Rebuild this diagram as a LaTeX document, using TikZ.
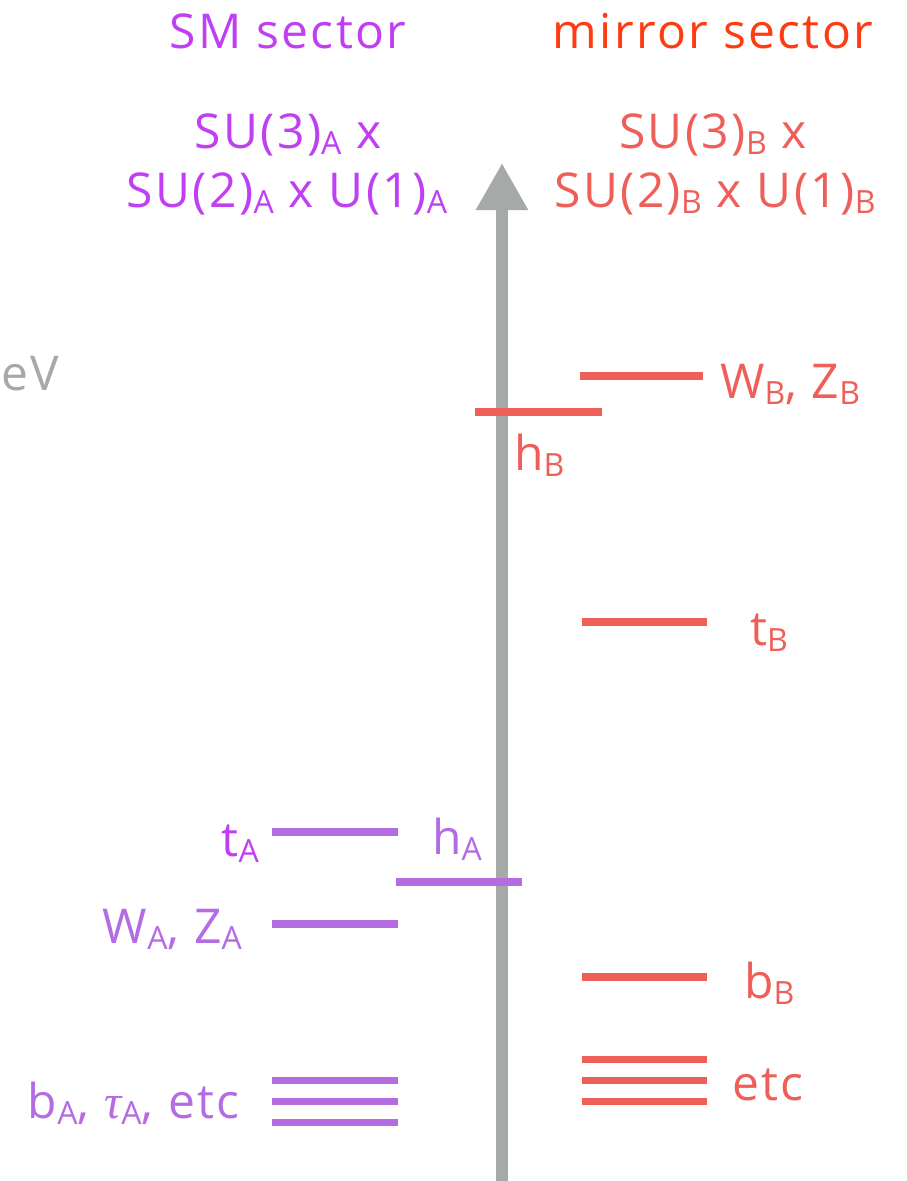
\documentclass[tikz,border=0pt]{standalone}
\usepackage{fontspec}
\setmainfont{Open Sans}[LetterSpace=5]
\newfontfamily\greekf{Liberation Serif}
\usetikzlibrary{arrows.meta}
\definecolor{smtitle}{HTML}{C13FF2}
\definecolor{mirtitle}{HTML}{FF3B12}
\definecolor{bred}{HTML}{EE5F5A}
\definecolor{apurp}{HTML}{B46CE3}
\definecolor{axisgray}{HTML}{A5A9A8}
\newcommand{\sbs}[1]{\raisebox{-6pt}{\fontsize{32}{32}\selectfont #1}}
\tikzset{
  big/.style={font=\fontsize{48}{56}\selectfont, inner sep=0pt},
  lvlA/.style={draw=apurp, line width=8pt},
  lvlB/.style={draw=bred, line width=8pt},
  axisarrow/.style={draw=axisgray, line width=12pt, -{Triangle[length=47pt,width=49pt]}},
}
\begin{document}
\begin{tikzpicture}[x=1pt,y=-1pt]
\useasboundingbox (0,0) rectangle (907,1181);
% titles
\node[big, text=smtitle, anchor=base] (smt) at (288,48) {SM sector};
\node[big, text=mirtitle, anchor=base] (mrt) at (713,48) {mirror sector};
\node[big, text=smtitle, anchor=base] (gA1) at (288,148) {SU(3)\sbs{A} x};
\node[big, text=smtitle, anchor=base] (gA2) at (287,207) {SU(2)\sbs{A} x U(1)\sbs{A}};
\node[big, text=bred, anchor=base] (gB1) at (713,148) {SU(3)\sbs{B} x};
\node[big, text=bred, anchor=base] (gB2) at (715,207) {SU(2)\sbs{B} x U(1)\sbs{B}};
\node[big, text=axisgray, anchor=base west] (ev) at (1,390) {eV};
% axis
\coordinate (axb) at (502,1181);
\coordinate (axt) at (502,163);
\draw[axisarrow] (axb) -- (axt);
% mirror levels
\coordinate (wbL) at (580,376); \coordinate (wbR) at (703,376);
\draw[lvlB] (wbL) -- (wbR);
\node[big, text=bred, anchor=base west] (wbl) at (720,398) {W\sbs{B}, Z\sbs{B}};
\coordinate (hbL) at (475,412); \coordinate (hbR) at (602,412);
\draw[lvlB] (hbL) -- (hbR);
\node[big, text=bred, anchor=base west] (hbl) at (514,470) {h\sbs{B}};
\coordinate (tbL) at (582,622); \coordinate (tbR) at (707,622);
\draw[lvlB] (tbL) -- (tbR);
\node[big, text=bred, anchor=base west] (tbl) at (750,645) {t\sbs{B}};
\coordinate (bbL) at (582,977); \coordinate (bbR) at (707,977);
\draw[lvlB] (bbL) -- (bbR);
\node[big, text=bred, anchor=base west] (bbl) at (744,998) {b\sbs{B}};
\coordinate (e1L) at (582,1059); \coordinate (e1R) at (707,1059);
\coordinate (e2L) at (582,1080); \coordinate (e2R) at (707,1080);
\coordinate (e3L) at (582,1101); \coordinate (e3R) at (707,1101);
\draw[lvlB, line width=7pt] (e1L) -- (e1R);
\draw[lvlB, line width=7pt] (e2L) -- (e2R);
\draw[lvlB, line width=7pt] (e3L) -- (e3R);
\node[big, text=bred, anchor=base west] (etcl) at (732,1100) {etc};
% SM levels
\coordinate (taL) at (272,832); \coordinate (taR) at (398,832);
\draw[lvlA] (taL) -- (taR);
\node[big, text=smtitle, anchor=base east] (tal) at (259,856) {t\sbs{A}};
\coordinate (haL) at (396,882); \coordinate (haR) at (522,882);
\draw[lvlA] (haL) -- (haR);
\node[big, text=apurp, anchor=base west] (hal) at (432,854) {h\sbs{A}};
\coordinate (waL) at (272,924); \coordinate (waR) at (398,924);
\draw[lvlA] (waL) -- (waR);
\node[big, text=apurp, anchor=base east] (wal) at (242,943) {W\sbs{A}, Z\sbs{A}};
\coordinate (a1L) at (272,1080); \coordinate (a1R) at (398,1080);
\coordinate (a2L) at (272,1101); \coordinate (a2R) at (398,1101);
\coordinate (a3L) at (272,1122); \coordinate (a3R) at (398,1122);
\draw[lvlA, line width=7pt] (a1L) -- (a1R);
\draw[lvlA, line width=7pt] (a2L) -- (a2R);
\draw[lvlA, line width=7pt] (a3L) -- (a3R);
\node[big, text=apurp, anchor=base east] (bal) at (240,1118) {b\sbs{A}, {\greekf\itshape τ}\sbs{A}, etc};
\end{tikzpicture}
\end{document}
